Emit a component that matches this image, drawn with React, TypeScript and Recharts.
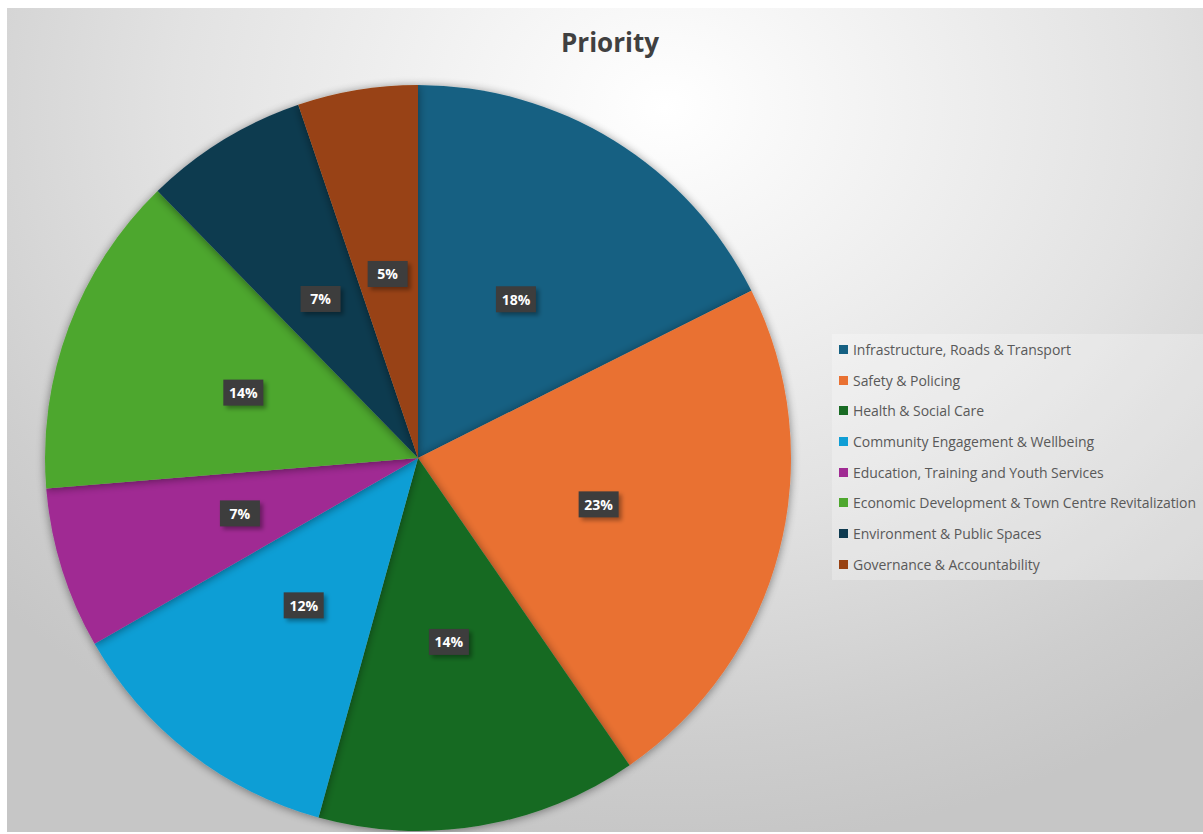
import React from 'react';
import { PieChart, Pie, Cell, Legend } from 'recharts';

const categories = [
  'Infrastructure, Roads & Transport',
  'Safety & Policing',
  'Health & Social Care',
  'Community Engagement & Wellbeing',
  'Education, Training and Youth Services',
  'Economic Development & Town Centre Revitalization',
  'Environment & Public Spaces',
  'Governance & Accountability',
];
const shares = [17.6, 22.8, 13.9, 12.4, 7.0, 14.0, 7.1, 5.2];
const colors = ['#156082', '#E97132', '#196B24', '#0F9ED5', '#A02B93', '#4EA72E', '#0E3A50', '#984212'];

const data = categories.map((name, i) => ({ name, value: shares[i] }));

const RAD = Math.PI / 180;
const FONT = '"Open Sans", "Noto Sans", sans-serif';

const renderLabel = (props: any) => {
  const { cx, cy, midAngle, outerRadius, percent } = props;
  const r = outerRadius * 0.5;
  const x = cx + r * Math.cos(-midAngle * RAD);
  const y = cy + r * Math.sin(-midAngle * RAD);
  const text = `${Math.round(percent * 100)}%`;
  const w = 40;
  const h = 26;
  return (
    <g>
      <rect x={x - w / 2 + 3} y={y - h / 2 + 3} width={w} height={h} fill="rgba(0,0,0,0.35)" filter="url(#lblShadow)" />
      <rect x={x - w / 2} y={y - h / 2} width={w} height={h} fill="#3d3d3d" />
      <text x={x} y={y} textAnchor="middle" dominantBaseline="central" fill="#ffffff" fontWeight={700} fontSize={14} fontFamily={FONT}>
        {text}
      </text>
    </g>
  );
};

const LegendContent = () => (
  <div
    style={{
      background: 'rgba(255,255,255,0.25)',
      width: 371,
      height: 246,
      boxSizing: 'border-box',
      paddingTop: 0,
      paddingLeft: 7,
      fontFamily: FONT,
    }}
  >
    {categories.map((c, i) => (
      <div key={c} style={{ display: 'flex', alignItems: 'center', height: 30.7, whiteSpace: 'nowrap' }}>
        <span style={{ display: 'inline-block', width: 9, height: 9, background: colors[i], marginRight: 5 }} />
        <span style={{ fontSize: 14, color: '#595959', letterSpacing: -0.05 }}>{c}</span>
      </div>
    ))}
  </div>
);

export default function App() {
  return (
    <div
      style={{
        position: 'absolute',
        left: 7,
        top: 8,
        width: 1196,
        height: 824,
        background: 'radial-gradient(ellipse 75% 90% at 55% 12%, #ffffff 0%, #f2f2f2 25%, #e2e2e2 55%, #cecece 85%, #c6c6c6 100%)',
        overflow: 'hidden',
      }}
    >
      <div
        style={{
          position: 'absolute',
          left: 5,
          top: 16,
          width: 1196,
          textAlign: 'center',
          fontFamily: FONT,
          fontWeight: 700,
          fontSize: 26,
          color: '#404040',
        }}
      >
        Priority
      </div>
      <PieChart width={1196} height={824} margin={{ top: 0, right: 0, bottom: 0, left: 0 }} style={{ position: 'absolute', left: 0, top: 0 }}>
        <defs>
          <filter id="pieShadow" x="-10%" y="-10%" width="120%" height="120%">
            <feGaussianBlur in="SourceAlpha" stdDeviation="5" />
            <feOffset dx="0" dy="1" result="b" />
            <feComponentTransfer>
              <feFuncA type="linear" slope="0.45" />
            </feComponentTransfer>
            <feMerge>
              <feMergeNode />
              <feMergeNode in="SourceGraphic" />
            </feMerge>
          </filter>
          <filter id="lblShadow" x="-30%" y="-30%" width="160%" height="160%">
            <feGaussianBlur stdDeviation="2" />
          </filter>
        </defs>
        <Pie
          data={data}
          dataKey="value"
          nameKey="name"
          cx={411}
          cy={450}
          outerRadius={373}
          startAngle={90}
          endAngle={-270}
          stroke="none"
          isAnimationActive={false}
          labelLine={false}
          label={renderLabel}
          style={{ filter: 'url(#pieShadow)' }}
        >
          {data.map((d, i) => (
            <Cell key={d.name} fill={colors[i]} stroke="none" />
          ))}
        </Pie>
        <Legend
          content={<LegendContent />}
          wrapperStyle={{ position: 'absolute', left: 825, top: 326, width: 371, height: 246 }}
        />
      </PieChart>
    </div>
  );
}
